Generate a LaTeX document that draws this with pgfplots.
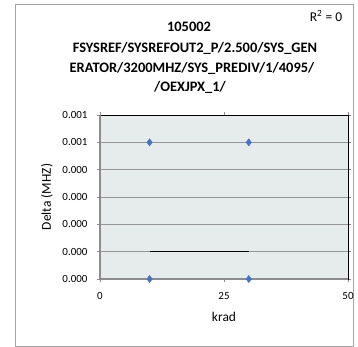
\documentclass[border=0pt]{standalone}
\usepackage{pgfplots}
\pgfplotsset{compat=1.18}
\usepackage{fontspec}
\setmainfont{Carlito}
\definecolor{plotbg}{RGB}{230,235,236}
\definecolor{gridc}{RGB}{150,150,150}
\definecolor{axc}{RGB}{140,140,140}
\definecolor{mk}{RGB}{68,114,196}
\begin{document}
\begin{tikzpicture}[x=1bp,y=1bp]
\useasboundingbox (0,0) rectangle (358,347);
\draw[gray!70, line width=0.8bp] (15,1) rectangle (353,343);
\begin{axis}[
  at={(100bp,68bp)}, anchor=south west,
  scale only axis, width=248bp, height=164bp,
  xmin=0, xmax=50, ymin=0, ymax=0.0006,
  xtick={0,25,50}, ytick={0,0.0001,0.0002,0.0003,0.0004,0.0005,0.0006},
  y tick label style={/pgf/number format/fixed, /pgf/number format/fixed zerofill, /pgf/number format/precision=3},
  /pgf/number format/assume math mode=true,
  scaled y ticks=false,
  ymajorgrids, grid style={gridc, line width=0.8bp},
  axis background/.style={fill=plotbg},
  axis line style={black, line width=0.8bp},
  tick style={axc, line width=0.6bp},
  tick align=outside, major tick length=3bp,
  ticklabel style={font=\fontsize{11}{13}\selectfont},
  xticklabel style={anchor=center, yshift=-14bp},
  yticklabel style={anchor=east, xshift=-6bp},
  xlabel={krad}, ylabel={Delta (MHZ)},
  label style={font=\fontsize{13.5}{16}\selectfont},
  xlabel style={at={(axis description cs:0.5,-0.232)}, anchor=center},
  ylabel style={at={(axis description cs:-0.214,0.5)}, anchor=center, rotate=0},
  clip=false,
]
\draw[axc, line width=1.5bp] (axis cs:0,0.0006) -- (axis cs:0,0) -- (axis cs:50,0);
\addplot[black, line width=0.8bp, forget plot] coordinates {(10,0.0001) (30,0.0001)};
\addplot[only marks, mark=diamond*, mark size=3.6bp, color=mk] coordinates {
(10,0.0005) (30,0.0005) (10,0) (30,0)};
\end{axis}
\node[font=\fontsize{13.5}{16}\selectfont] at (326,331) {R\textsuperscript{2} = 0};
\node[font=\bfseries\fontsize{14.5}{17}\selectfont] at (189,320) {105002};
\node[font=\bfseries\fontsize{14.5}{17}\selectfont] at (195,299) {FSYSREF/SYSREFOUT2\_P/2.500/SYS\_GEN};
\node[font=\bfseries\fontsize{14.5}{17}\selectfont] at (192,279) {ERATOR/3200MHZ/SYS\_PREDIV/1/4095/};
\node[font=\bfseries\fontsize{14.5}{17}\selectfont] at (190,260) {/OEXJPX\_1/};
\end{tikzpicture}
\end{document}
